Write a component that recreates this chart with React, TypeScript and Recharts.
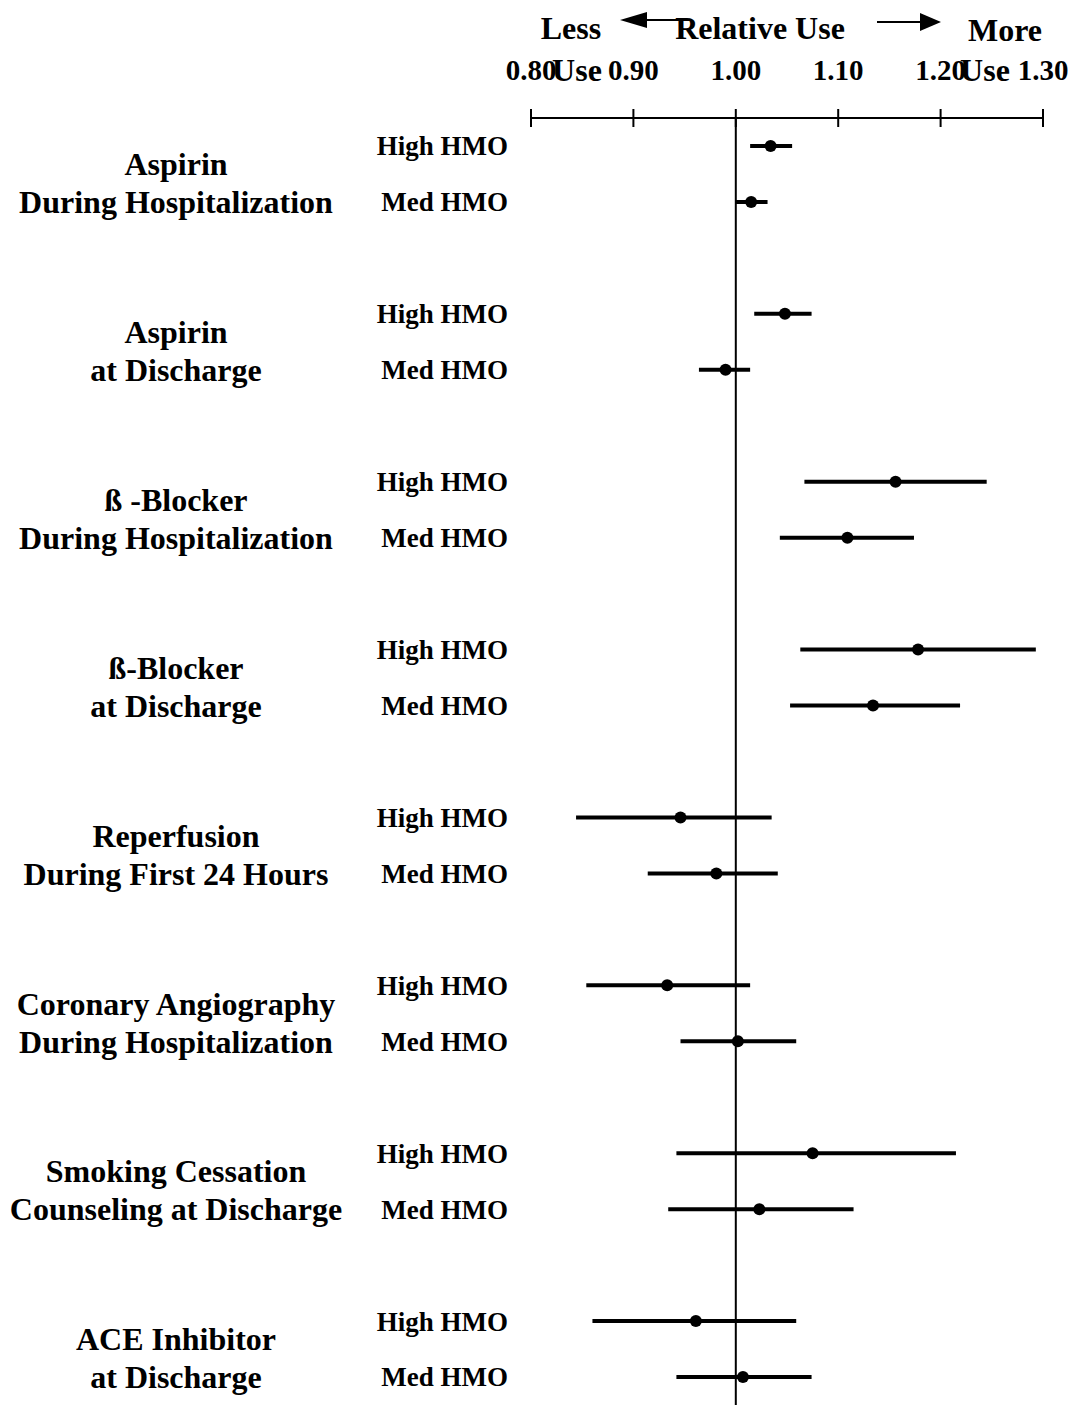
import React from "react";
import {
  ScatterChart,
  Scatter,
  XAxis,
  YAxis,
  ErrorBar,
  ReferenceLine
} from 'recharts';

const FONT = '"Liberation Serif", "Times New Roman", serif';

const groups = [
  ['Aspirin', 'During Hospitalization'],
  ['Aspirin', 'at Discharge'],
  ['ß -Blocker', 'During Hospitalization'],
  ['ß-Blocker', 'at Discharge'],
  ['Reperfusion', 'During First 24 Hours'],
  ['Coronary Angiography', 'During Hospitalization'],
  ['Smoking Cessation', 'Counseling at Discharge'],
  ['ACE Inhibitor', 'at Discharge'],
];

const rowLabels = ['High HMO', 'Med HMO'];

const highEst = [1.034, 1.048, 1.156, 1.178, 0.946, 0.933, 1.075, 0.961];
const highLow = [1.014, 1.018, 1.067, 1.063, 0.844, 0.854, 0.942, 0.860];
const highHigh = [1.055, 1.074, 1.245, 1.293, 1.035, 1.014, 1.215, 1.059];

const medEst = [1.015, 0.990, 1.109, 1.134, 0.981, 1.002, 1.023, 1.007];
const medLow = [1.000, 0.964, 1.043, 1.053, 0.914, 0.946, 0.934, 0.942];
const medHigh = [1.031, 1.014, 1.174, 1.219, 1.041, 1.059, 1.115, 1.074];

const xTicks = [0.8, 0.9, 1.0, 1.1, 1.2, 1.3];

// each group takes 3 slots: High, Med, gap
const data = groups.flatMap((g, i) => [
  { y: i * 3, x: highEst[i], err: [highEst[i] - highLow[i], highHigh[i] - highEst[i]] },
  { y: i * 3 + 1, x: medEst[i], err: [medEst[i] - medLow[i], medHigh[i] - medEst[i]] },
]);
const yTicks = data.map(d => d.y);

const XTick = (props: any) => {
  const { x, y, payload } = props;
  return (
    <g>
      <line x1={x} x2={x} y1={y - 9} y2={y + 9} stroke="black" strokeWidth={2} />
      <text x={x} y={y - 38} textAnchor="middle" fontFamily={FONT} fontWeight="bold" fontSize={29}>
        {payload.value.toFixed(2)}
      </text>
    </g>
  );
};

const YTick = (props: any) => {
  const { x, y, payload } = props;
  const v = payload.value;
  const gi = Math.floor(v / 3);
  const isHigh = v % 3 === 0;
  return (
    <g fontFamily={FONT} fontWeight="bold">
      <text x={x} y={y} dy="0.35em" textAnchor="end" fontSize={27}>
        {rowLabels[v % 3]}
      </text>
      {isHigh && groups[gi].map((line, k) => (
        <text key={k} x={x - 332} y={y + 18 + k * 38} dy="0.35em" textAnchor="middle" fontSize={32}>
          {line}
        </text>
      ))}
    </g>
  );
};

const Dot = (props: any) => <circle cx={props.cx} cy={props.cy} r={6} fill="black" />;

const Header = () => (
  <svg width={1072} height={110} style={{ position: 'absolute', left: 0, top: 0 }}
       fontFamily={FONT} fontWeight="bold" fontSize={32}>
    <text x={571} y={39} textAnchor="middle">Less</text>
    <text x={577} y={81} textAnchor="middle">Use</text>
    <text x={760} y={39} textAnchor="middle">Relative Use</text>
    <text x={1005} y={41} textAnchor="middle">More</text>
    <text x={985} y={81} textAnchor="middle">Use</text>
    <line x1={645} x2={692} y1={20} y2={20} stroke="black" strokeWidth={2} />
    <polygon points="620,20 647,12 647,28" fill="black" />
    <line x1={877} x2={922} y1={22} y2={22} stroke="black" strokeWidth={2} />
    <polygon points="941,22 920,13 920,31" fill="black" />
  </svg>
);

export default function App() {
  return (
    <div style={{ position: 'absolute', left: 0, top: 0, width: 1072, height: 1405, background: 'white' }}>
      <ScatterChart width={1072} height={1405} margin={{ top: 0, right: 29, bottom: 0, left: 0 }}>
        <XAxis type="number" dataKey="x" orientation="top" domain={[0.8, 1.3]} ticks={xTicks}
               height={118} tickSize={0} tickMargin={0} tick={<XTick />}
               axisLine={{ stroke: 'black', strokeWidth: 2 }} allowDataOverflow />
        <YAxis type="number" dataKey="y" domain={[-0.5, 22.5]} reversed ticks={yTicks}
               width={531} tickSize={0} tickMargin={23} axisLine={false} tickLine={false}
               tick={<YTick />} interval={0} />
        <ReferenceLine x={1} stroke="black" strokeWidth={2} />
        <Scatter data={data} shape={<Dot />} isAnimationActive={false}>
          <ErrorBar dataKey="err" direction="x" width={0} stroke="black" strokeWidth={4} />
        </Scatter>
      </ScatterChart>
      <Header />
    </div>
  );
}
